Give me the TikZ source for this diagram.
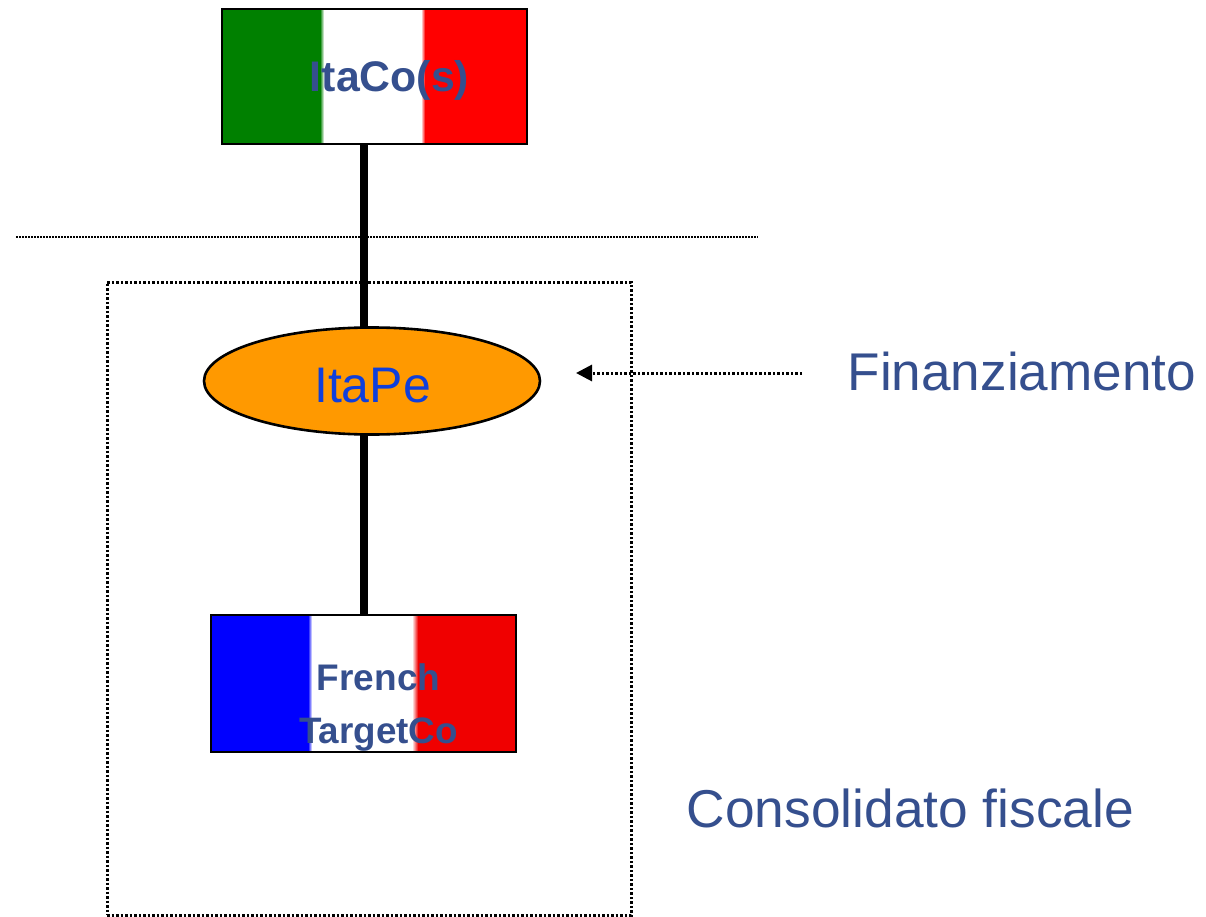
\documentclass[tikz,border=0pt]{standalone}
\usepackage{fontspec}
\setmainfont{Liberation Sans}
\usetikzlibrary{shapes.geometric,arrows.meta}
\definecolor{navytext}{HTML}{354F8E}
\definecolor{itablue}{HTML}{0F3FDB}
\definecolor{itagreen}{HTML}{008000}
\definecolor{orangefill}{HTML}{FF9900}
\definecolor{frred}{HTML}{F00000}
\tikzset{
  flagbox/.style={draw=black,line width=2.2pt,minimum width=305pt,minimum height=135pt,inner sep=0pt,outer sep=0pt},
  flagtext/.style={text=navytext,font=\bfseries,inner sep=0pt,align=center},
  trunk/.style={line width=8pt,draw=black},
  dotline/.style={draw=black,line width=3pt,dash pattern=on 2.5pt off 2pt},
  sidelabel/.style={text=navytext,inner sep=0pt,anchor=base west}
}
\begin{document}
\begin{tikzpicture}[x=1pt,y=-1pt]
\useasboundingbox (0,0) rectangle (1206,917);
% Italian flag
\fill[itagreen] (222,9) rectangle (320,144);
\shade[left color=itagreen,right color=white] (320,9) rectangle (324,144);
\shade[left color=white,right color=red] (421,9) rectangle (425,144);
\fill[red] (425,9) rectangle (527,144);
\node[flagbox] (itaco) at (374.5,76.5) {};
\node[flagtext,font=\bfseries\fontsize{42.8}{50}\selectfont,anchor=base] (itacotxt) at (389.5,92) {ItaCo(s)};
% French flag
\fill[blue] (211,615) rectangle (308,752);
\shade[left color=blue,right color=white] (308,615) rectangle (312,752);
\shade[left color=white,right color=frred] (412,615) rectangle (418,752);
\fill[frred] (418,615) rectangle (516,752);
\node[flagbox,minimum height=137pt] (target) at (363.5,683.5) {};
\node[flagtext,font=\bfseries\fontsize{37}{44}\selectfont,anchor=base] (frtxt) at (378.5,690) {French};
\node[flagtext,font=\bfseries\fontsize{36.8}{44}\selectfont,anchor=base] (tgtxt) at (378.5,743) {TargetCo};
% Ellipse
\node[ellipse,draw=black,line width=2.6pt,fill=orangefill,minimum width=336pt,minimum height=107pt,inner sep=0pt,outer sep=0pt] (itape) at (372,381) {};
\node[text=itablue,inner sep=0pt,anchor=base,font=\fontsize{50}{55}\selectfont] (itapetxt) at (372.5,402) {ItaPe};
% Connectors
\coordinate (axis) at (364,0);
\draw[trunk] (itaco.south -| axis) -- (itape.north -| axis);
\draw[trunk] (itape.south -| axis) -- (target.north -| axis);
% Dotted elements
\coordinate (ruleL) at (16,237);
\coordinate (ruleR) at (758,237);
\draw[draw=black,line width=1.5pt,dash pattern=on 1.5pt off 1.5pt] (ruleL) -- (ruleR);
\node[dotline,minimum width=524pt,minimum height=633pt,inner sep=0pt,outer sep=0pt] (group) at (369,598.5) {};
\coordinate (arrowS) at (802,373);
\coordinate (arrowE) at (576,373);
\draw[dotline,-{Triangle[length=16pt,width=16pt]}] (arrowS) -- (arrowE);
% Labels
\node[sidelabel,font=\fontsize{53.1}{60}\selectfont] (fin) at (847.5,390) {Finanziamento};
\node[sidelabel,font=\fontsize{53.3}{60}\selectfont] (cons) at (686.5,827) {Consolidato fiscale};
\end{tikzpicture}
\end{document}
